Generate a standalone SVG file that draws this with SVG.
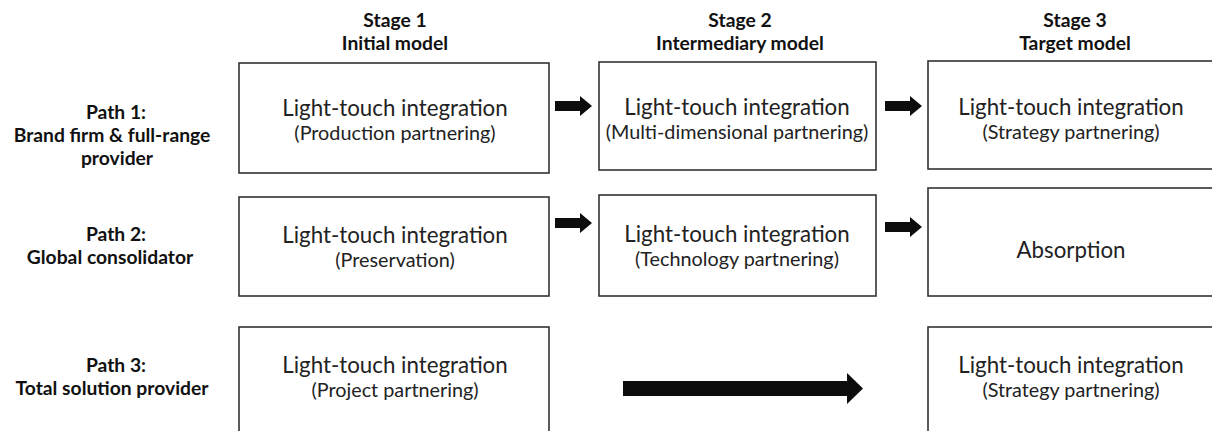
<svg xmlns="http://www.w3.org/2000/svg" width="1212" height="431" viewBox="0 0 1212 431">
<defs>
<style>
.box{fill:#fff;stroke:#333;stroke-width:1.6}
.main{font-family:Lato,"Liberation Sans",sans-serif;font-size:22.3px;fill:#222;text-anchor:middle}
.sub{font-family:Lato,"Liberation Sans",sans-serif;font-size:19.8px;fill:#222;text-anchor:middle}
.hdr{font-family:Lato,"Liberation Sans",sans-serif;font-size:19.3px;font-weight:bold;fill:#111;text-anchor:middle}
.arr{fill:#0d0d0d}
</style>
</defs>
<rect width="1212" height="431" fill="#fff"/>
<g id="headers">
<text class="hdr" x="395" y="27">Stage 1</text>
<text class="hdr" x="395" y="50">Initial model</text>
<text class="hdr" x="740" y="27">Stage 2</text>
<text class="hdr" x="740" y="50">Intermediary model</text>
<text class="hdr" x="1075" y="27">Stage 3</text>
<text class="hdr" x="1075" y="50">Target model</text>
</g>
<g id="path-labels">
<text class="hdr" x="116" y="119">Path 1:</text>
<text class="hdr" x="112" y="142">Brand firm &amp; full-range</text>
<text class="hdr" x="117" y="165">provider</text>
<text class="hdr" x="116" y="241">Path 2:</text>
<text class="hdr" x="110" y="264">Global consolidator</text>
<text class="hdr" x="116" y="372">Path 3:</text>
<text class="hdr" x="112" y="395">Total solution provider</text>
</g>
<g id="n11"><rect class="box" x="239" y="63" width="310" height="110"/>
<text class="main" x="395" y="116">Light-touch integration</text>
<text class="sub" x="395" y="140">(Production partnering)</text></g>
<g id="n12"><rect class="box" x="599" y="62" width="277" height="108"/>
<text class="main" x="737" y="115">Light-touch integration</text>
<text class="sub" x="737" y="139">(Multi-dimensional partnering)</text></g>
<g id="n13"><rect class="box" x="928" y="61" width="300" height="108"/>
<text class="main" x="1071" y="115">Light-touch integration</text>
<text class="sub" x="1071" y="139">(Strategy partnering)</text></g>
<g id="n21"><rect class="box" x="239" y="197" width="310" height="99"/>
<text class="main" x="395" y="243">Light-touch integration</text>
<text class="sub" x="395" y="267">(Preservation)</text></g>
<g id="n22"><rect class="box" x="599" y="195" width="277" height="101"/>
<text class="main" x="737" y="242">Light-touch integration</text>
<text class="sub" x="737" y="266">(Technology partnering)</text></g>
<g id="n23"><rect class="box" x="928" y="188" width="300" height="108"/>
<text class="main" x="1071" y="258">Absorption</text></g>
<g id="n31"><rect class="box" x="239" y="327" width="310" height="120"/>
<text class="main" x="395" y="373">Light-touch integration</text>
<text class="sub" x="395" y="397">(Project partnering)</text></g>
<g id="n33"><rect class="box" x="928" y="327" width="300" height="120"/>
<text class="main" x="1071" y="373">Light-touch integration</text>
<text class="sub" x="1071" y="397">(Strategy partnering)</text></g>
<g id="connectors">
<path class="arr" d="M555,101 H580 V96 L592,106 L580,116 V111 H555 Z"/>
<path class="arr" d="M885,101 H910 V96 L922,106 L910,116 V111 H885 Z"/>
<path class="arr" d="M555,218 H580 V213 L592,223 L580,233 V228 H555 Z"/>
<path class="arr" d="M885,222 H910 V217 L922,227 L910,237 V232 H885 Z"/>
<path class="arr" d="M623,381 H847 V373 L863,388.5 L847,404 V396 H623 Z"/>
</g>
</svg>
